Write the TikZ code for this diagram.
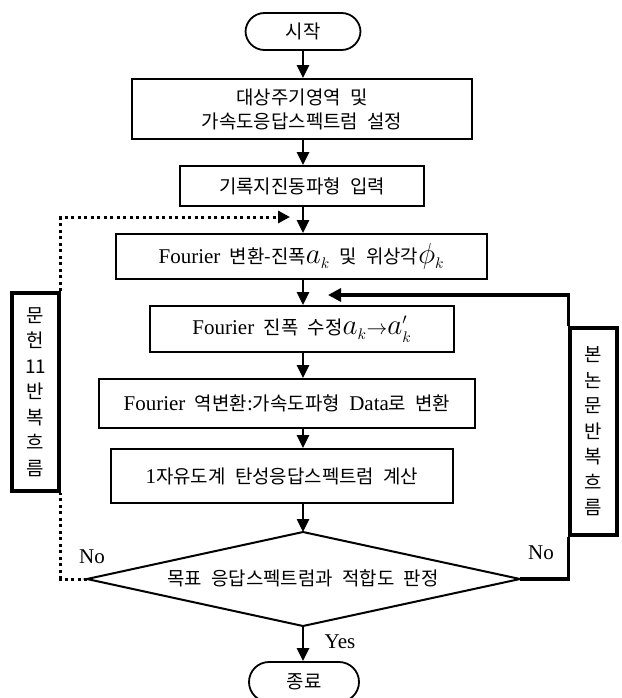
\documentclass[tikz,border=0pt]{standalone}
\usepackage{graphicx}
\usepackage{fontspec}
\setmainfont[WordSpace=1.8]{Liberation Serif}
\newfontfamily\kr[Scale=0.9,WordSpace=2.2]{Noto Sans CJK KR}
\usetikzlibrary{arrows.meta}
\newcommand\mybigmath[1]{\scalebox{1.4}{$#1$}}
\begin{document}
\begin{tikzpicture}[x=1pt,y=-1pt,
  box/.style={draw, line width=1.8pt, inner sep=0pt, align=center, font=\fontsize{21}{24}\selectfont},
  term/.style={box, rounded corners=19pt},
  side/.style={draw, line width=3.5pt, inner sep=0pt, align=center, font=\kr\fontsize{21}{25.5}\selectfont},
  arr/.style={line width=2.5pt, -{Triangle[length=13pt,width=12pt]}},
  dots/.style={line width=3pt, dash pattern=on 3pt off 3.5pt},
  fb/.style={line width=3.5pt},
  lbl/.style={font=\fontsize{21}{21}\selectfont, inner sep=0pt}
]
\useasboundingbox (0,0) rectangle (621,698);

% process nodes
\node[term, minimum width=115pt, minimum height=37pt] (start) at (303,31.5) {\kr 시작};
\node[box, minimum width=340pt, minimum height=60pt] (b2) at (302,109) {\kr 대상주기영역 및\\[0pt]\kr 가속도응답스펙트럼 설정};
\node[box, minimum width=244pt, minimum height=40pt] (b3) at (302,186) {\kr 기록지진동파형 입력};
\node[box, minimum width=371pt, minimum height=45pt] (b4) at (301.5,256.5) {Fourier {\kr 변환-진폭}\mybigmath{a_{\scriptscriptstyle k}} {\kr 및 위상각}\mybigmath{\phi_{\scriptscriptstyle k}}};
\node[box, minimum width=304pt, minimum height=46pt] (b5) at (302,329) {Fourier {\kr 진폭 수정}\mybigmath{a_{\scriptscriptstyle k}}$\rightarrow$\mybigmath{a_{\scriptscriptstyle k}^{\scriptscriptstyle\prime}}};
\node[box, minimum width=376pt, minimum height=49pt] (b6) at (287,403.5) {Fourier {\kr 역변환}:{\kr 가속도파형} Data{\kr 로 변환}};
\node[box, minimum width=342pt, minimum height=54pt] (b7) at (282,476) {1{\kr 자유도계 탄성응답스펙트럼 계산}};

% decision diamond
\coordinate (dT) at (303,532);
\coordinate (dL) at (87,579);
\coordinate (dR) at (520,579);
\coordinate (dB) at (303,626);
\draw[line width=2pt, line join=miter] (dT) -- (dR) -- (dB) -- (dL) -- cycle;
\node[font=\kr\fontsize{21}{21}\selectfont, inner sep=0pt] (d) at (303,578) {목표 응답스펙트럼과 적합도 판정};

\node[term, minimum width=110pt, minimum height=40pt, rounded corners=20pt] (end) at (304,682) {\kr 종료};

% side boxes
\node[side, minimum width=47pt, minimum height=198pt] (lb) at (35.5,392) {문\\헌\\11\\반\\복\\흐\\름};
\node[side, minimum width=47pt, minimum height=207pt] (rb) at (593.5,431.5) {본\\논\\문\\반\\복\\흐\\름};

% main arrows
\draw[arr] (start.south) -- (start |- b2.north);
\draw[arr] (start |- b2.south) -- (start |- b3.north);
\draw[arr] (start |- b3.south) -- (start |- b4.north);
\draw[arr] (start |- b4.south) -- (start |- b5.north);
\draw[arr] (start |- b5.south) -- (start |- b6.north);
\draw[arr] (start |- b6.south) -- (start |- b7.north);
\draw[arr] (start |- b7.south) -- (dT);
\draw[arr] (dB) -- (dB |- end.north);

% dotted loop (reference 11)
\coordinate (dtip) at (290,217);
\draw[dots] (dL) -| (lb.south east);
\draw[dots, -{Triangle[length=12pt,width=12pt]}] (lb.north east) |- (dtip);

% solid loop (this paper)
\coordinate (ftip) at (328,295);
\draw[fb] (dR) -| (rb.south west);
\draw[fb, -{Triangle[length=13pt,width=13pt]}] (rb.north west) |- (ftip);

% labels
\node[lbl] (noL) at (92,557) {No};
\node[lbl] (noR) at (541,553) {No};
\node[lbl] (yes) at (340,642) {Yes};
\end{tikzpicture}
\end{document}
